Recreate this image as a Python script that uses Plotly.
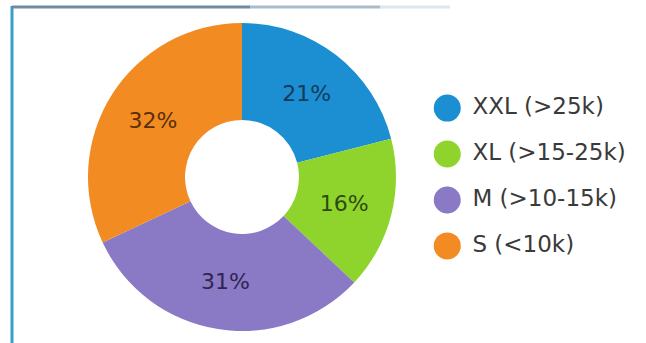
import plotly.graph_objects as go

labels = ["XXL (>25k)", "XL (>15-25k)", "M (>10-15k)", "S (<10k)"]
values = [21, 16, 31, 32]
colors = ["#1b8fd2", "#8fd42c", "#8a79c4", "#f28c22"]
text_colors = ["#143a5c", "#2e4a10", "#2f2650", "#5a2e08"]
legend_y = [3, 2, 1, 0]

W, H = 646, 343
cx, cy, r = 242, 177, 154

fig = go.Figure()
fig.add_trace(go.Pie(
    labels=labels, values=values, sort=False, direction="clockwise", rotation=0,
    hole=0.37, marker=dict(colors=colors, line=dict(width=0)),
    textinfo="percent", textposition="inside", insidetextorientation="horizontal",
    textfont=dict(family="DejaVu Sans", size=22, color=text_colors),
    showlegend=False, hoverinfo="label+percent",
    domain=dict(x=[(cx - r) / W, (cx + r) / W], y=[(H - cy - r) / H, (H - cy + r) / H]),
))

# legend drawn as a scatter on a hidden axis
fig.add_trace(go.Scatter(
    x=[0] * len(labels), y=legend_y, mode="markers+text",
    marker=dict(size=27, color=colors, symbol="circle", line=dict(width=0)),
    text=labels, texttemplate=" %{text}", textposition="middle right",
    textfont=dict(family="DejaVu Sans", size=23, color="#3a3a3a"),
    showlegend=False, hoverinfo="skip", cliponaxis=False,
))

fig.update_layout(
    width=W, height=H, margin=dict(l=0, r=0, t=0, b=0),
    paper_bgcolor="white", plot_bgcolor="rgba(0,0,0,0)",
    xaxis=dict(domain=[434 / W, 1], range=[-0.5, 7.5], visible=False, fixedrange=True),
    yaxis=dict(domain=[(H - 262) / H, (H - 92) / H], range=[-0.35, 3.35], visible=False, fixedrange=True),
    shapes=[
        dict(type="line", xref="paper", yref="paper", x0=12 / W, x1=12 / W, y0=0, y1=(H - 6) / H,
             line=dict(color="#3a9ec6", width=3)),
        dict(type="line", xref="paper", yref="paper", x0=12 / W, x1=250 / W, y0=(H - 7) / H, y1=(H - 7) / H,
             line=dict(color="#6f8aa2", width=3)),
        dict(type="line", xref="paper", yref="paper", x0=250 / W, x1=380 / W, y0=(H - 7) / H, y1=(H - 7) / H,
             line=dict(color="#a9bccc", width=3)),
        dict(type="line", xref="paper", yref="paper", x0=380 / W, x1=450 / W, y0=(H - 7) / H, y1=(H - 7) / H,
             line=dict(color="#dde6ee", width=3)),
    ],
)

fig.write_html("out.html")
